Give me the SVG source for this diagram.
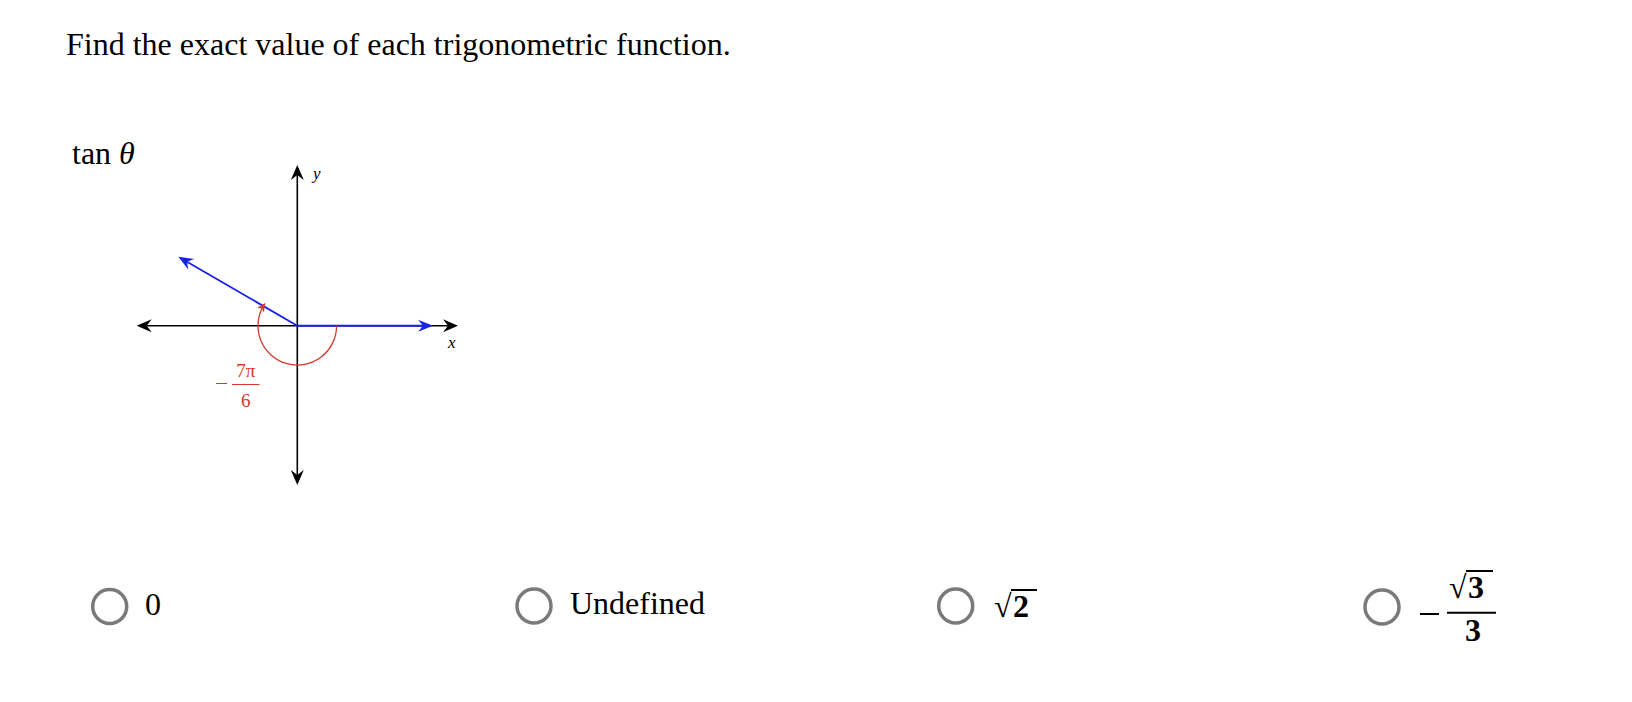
<svg xmlns="http://www.w3.org/2000/svg" width="1632" height="702" viewBox="0 0 1632 702">
<style>
.t{font-family:"Liberation Serif","Times New Roman",serif;fill:#000}
.big{font-size:32px}
.m{font-family:"Liberation Serif","Times New Roman",serif;font-weight:bold;font-size:32px;fill:#000}
.ax{stroke:#000;stroke-width:1.6;fill:none}
.bl{stroke:#1a22e8;stroke-width:1.9;fill:none}
.rd{stroke:#d23a2a;stroke-width:1.3;fill:none}
.lbl{font-family:"Liberation Serif","Times New Roman",serif;font-size:17px;font-style:italic;fill:#000}
.rl{font-family:"Liberation Serif","Times New Roman",serif;font-size:19px;fill:#d23a2a}
.radio{fill:#fff;stroke:#7a7a7a;stroke-width:3.5}
.bar{stroke:#000;stroke-width:2}
</style>
<defs>
<marker id="ak" viewBox="-16 -8 20 16" refX="0" refY="0" markerWidth="20" markerHeight="16" markerUnits="userSpaceOnUse" orient="auto">
<path d="M3,0 L-12,-6.5 L-7,0 L-12,6.5 Z" fill="#000"/>
</marker>
<marker id="ab" viewBox="-16 -8 20 16" refX="0" refY="0" markerWidth="20" markerHeight="16" markerUnits="userSpaceOnUse" orient="auto">
<path d="M3,0 L-12,-6 L-7,0 L-12,6 Z" fill="#1a22e8"/>
</marker>
<marker id="ar" viewBox="-12 -6 16 12" refX="0" refY="0" markerWidth="16" markerHeight="12" markerUnits="userSpaceOnUse" orient="auto">
<path d="M2,0 L-7,-4 L-4.5,0 L-7,4 Z" fill="#d23a2a"/>
</marker>
</defs>
<rect width="1632" height="702" fill="#fff"/>
<g id="title"><text class="t big" x="66" y="55">Find the exact value of each trigonometric function.</text></g>
<g id="func"><text class="t big" x="72" y="164">tan <tspan font-style="italic">θ</tspan></text></g>
<g id="graph">
<g id="connectors">
<line class="ax" x1="297.3" y1="325.7" x2="139.7" y2="325.7" marker-end="url(#ak)"/>
<line class="ax" x1="297.3" y1="325.7" x2="455" y2="325.7" marker-end="url(#ak)"/>
<line class="ax" x1="297.3" y1="325.7" x2="297.3" y2="168" marker-end="url(#ak)"/>
<line class="ax" x1="297.3" y1="325.7" x2="297.3" y2="482" marker-end="url(#ak)"/>
<line class="bl" x1="297.3" y1="325.7" x2="430" y2="325.7" marker-end="url(#ab)"/>
<line class="bl" x1="297.3" y1="325.7" x2="180.9" y2="258.2" marker-end="url(#ab)"/>
<path class="rd" d="M336.6,325.7 A39.3,39.3 0 1 1 264.3,304.4" marker-end="url(#ar)"/>
</g>
<text class="lbl" x="313" y="179">y</text>
<text class="lbl" x="448" y="348">x</text>
<g id="angle-label">
<line x1="216" y1="383.5" x2="227" y2="383.5" stroke="#d23a2a" stroke-width="1"/>
<line x1="232" y1="384.5" x2="259.5" y2="384.5" stroke="#d23a2a" stroke-width="1"/>
<text class="rl" x="245.8" y="377" text-anchor="middle">7π</text>
<text class="rl" x="245.8" y="407" text-anchor="middle">6</text>
</g>
</g>
<g id="opt1">
<circle class="radio" cx="109.7" cy="606.5" r="17"/>
<text class="t big" x="145" y="615">0</text>
</g>
<g id="opt2">
<circle class="radio" cx="534" cy="606" r="17"/>
<text class="t big" x="570" y="614">Undefined</text>
</g>
<g id="opt3">
<circle class="radio" cx="955.7" cy="606" r="17"/>
<text class="m" x="994" y="617">√</text>
<line class="bar" x1="1011" y1="590" x2="1037" y2="590"/>
<text class="m" x="1013" y="617">2</text>
</g>
<g id="opt4">
<circle class="radio" cx="1382" cy="607" r="17"/>
<line class="bar" x1="1420" y1="614" x2="1439" y2="614"/>
<text class="m" x="1449" y="598">√</text>
<line class="bar" x1="1466" y1="571" x2="1493" y2="571"/>
<text class="m" x="1468" y="598">3</text>
<line class="bar" x1="1447" y1="612.7" x2="1496" y2="612.7"/>
<text class="m" x="1473" y="641" text-anchor="middle">3</text>
</g>
</svg>
